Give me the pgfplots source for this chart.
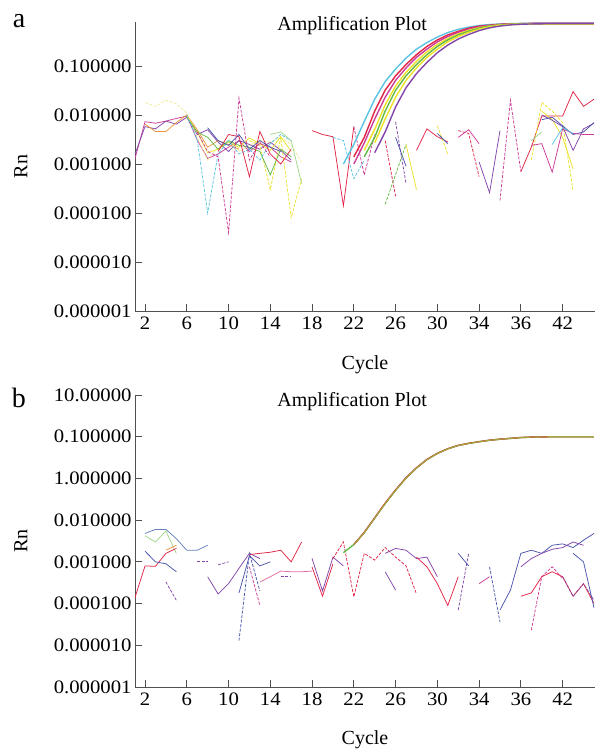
\documentclass[border=0pt]{standalone}
\usepackage{pgfplots}
\pgfplotsset{compat=1.18}
\usepackage{fontspec}
\setmainfont{Liberation Serif}
\newfontfamily\tickfont[FakeStretch=1.09]{Liberation Serif}
\newcommand\tl[1]{\mbox{\tickfont\fontsize{19}{22}\selectfont #1}}
\definecolor{cred}{RGB}{225,35,70}
\definecolor{cmag}{RGB}{205,60,150}
\definecolor{cpur}{RGB}{130,70,170}
\definecolor{cblu}{RGB}{75,85,170}
\definecolor{ccya}{RGB}{90,195,225}
\definecolor{cgrn}{RGB}{100,185,70}
\definecolor{cyel}{RGB}{235,225,40}
\definecolor{clye}{RGB}{240,235,150}
\definecolor{cora}{RGB}{235,150,60}
\definecolor{cste}{RGB}{100,130,190}
\definecolor{colv}{RGB}{160,170,60}
\definecolor{cpnk}{RGB}{225,110,160}
\definecolor{cpgr}{RGB}{160,215,140}
\definecolor{axc}{RGB}{80,80,80}
\tikzset{
  nzl/.style={line width=0.75pt},
  dzl/.style={line width=0.75pt, dash pattern=on 3pt off 1.5pt},
  ampl/.style={line width=1.4pt},
}
\begin{document}
\begin{tikzpicture}
\useasboundingbox (0,0) rectangle (595pt,749pt);
% ---------------- panel a ----------------
\begin{axis}[at={(135pt,438pt)}, anchor=south west,
  scale only axis, width=460pt, height=289pt, ymode=log,
  xmin=1.04, xmax=45.1, ymin=1e-6, ymax=0.79,
  clip mode=individual,
  axis x line*=bottom, axis y line*=left,
  axis line style={axc, line width=0.9pt, -},
  tick style={axc, line width=0.9pt},
  major tick length=7pt, tick align=inside,
  yminorticks=false, xminorticks=false,
  xtick={2,6,10,14,18,22,26,30,34,38,42},
  xticklabels={\tl{2},\tl{6},\tl{10},\tl{14},\tl{18},\tl{22},\tl{26},\tl{30},\tl{34},\tl{36},\tl{42}},
  ytick={1e-6,1e-5,1e-4,1e-3,1e-2,1e-1},
  yticklabels={\tl{0.000001},\tl{0.000010},\tl{0.000100},\tl{0.001000},\tl{0.010000},\tl{0.100000}},
  xticklabel style={yshift=-2pt},
  xlabel={Cycle}, ylabel={Rn},
  xlabel style={font=\fontsize{20}{24}\selectfont, at={(axis description cs:0.5,-0.187)}, anchor=center},
  ylabel style={font=\fontsize{20}{24}\selectfont, at={(axis description cs:-0.248,0.5)}, anchor=center, rotate=0},
]
% baseline noise, cycles 1-17
\addplot[cmag,nzl] coordinates {(1,0.0012)(2,0.0073)(3,0.0068)(4,0.0075)(5,0.0085)(6,0.0095)(7,0.0031)(8,0.0013)(9,0.0016)(10,0.0022)(11,0.0030)(12,0.0018)(13,0.0026)(14,0.0022)(15,0.0014)(16,0.0011)};
\addplot[cpur,nzl] coordinates {(1,0.0015)(2,0.0058)(3,0.0052)(4,0.0075)(5,0.0065)(6,0.0090)(7,0.0040)(8,0.0050)(9,0.0028)(10,0.0018)(11,0.0030)(12,0.0025)(13,0.0020)(14,0.0028)(15,0.0019)(16,0.0012)};
\addplot[cora,nzl] coordinates {(2,0.0065)(3,0.0046)(4,0.0046)(5,0.0070)(6,0.0100)(7,0.0050)(8,0.0022)(9,0.0030)(10,0.0025)(11,0.0020)};
\addplot[clye,dzl] coordinates {(2,0.018)(3,0.015)(4,0.020)(5,0.017)(6,0.011)(7,0.0035)(8,0.0012)(9,0.0022)(10,0.0030)(11,0.0018)(12,0.0024)(13,0.0030)(14,0.0028)(15,0.0035)(16,0.0025)(17,0.0011)};
\addplot[cyel,nzl] coordinates {(6,0.0095)(7,0.0045)(8,0.0017)(9,0.0020)(10,0.0028)(11,0.0022)(12,0.0034)(13,0.0026)(14,0.0019)(15,0.0036)(16,0.0018)};
\addplot[cyel,dzl] coordinates {(12,0.0030)(13,0.0024)(14,0.0003)(15,0.0035)(16,0.00008)(17,0.0005)};
\addplot[cgrn,nzl] coordinates {(6,0.009)(7,0.0045)(8,0.0035)(9,0.0020)(10,0.0030)(11,0.0024)(12,0.0022)(13,0.0018)(14,0.0006)(15,0.0020)(16,0.0014)};
\addplot[ccya,dzl] coordinates {(6,0.010)(7,0.0031)(8,0.0001)(9,0.0016)(10,0.0030)(11,0.0016)(12,0.0020)(13,0.0012)(14,0.0026)(15,0.0040)(16,0.0030)};
\addplot[cmag,dzl] coordinates {(7,0.0045)(8,0.0018)(9,0.0014)(10,0.00004)(11,0.022)(12,0.0012)(13,0.0028)(14,0.0014)};
\addplot[cred,nzl] coordinates {(9,0.0018)(10,0.0040)(11,0.0036)(12,0.00055)(13,0.0046)(14,0.0016)(15,0.0010)(16,0.0020)};
\addplot[cblu,nzl] coordinates {(8,0.0055)(9,0.0030)(10,0.0024)(11,0.0040)(12,0.0020)(13,0.0030)(14,0.0022)(15,0.0018)};
\addplot[cpgr,nzl] coordinates {(14,0.004)(15,0.0045)(16,0.0030)(17,0.0004)};
% baseline noise, cycles 18-45
\addplot[cred,nzl] coordinates {(18,0.0048)(19,0.0040)(20,0.0036)(21,0.00014)(22,0.0058)};
\addplot[cmag,dzl] coordinates {(22,0.0058)(23,0.0006)(24,0.004)};
\addplot[ccya,dzl] coordinates {(20,0.0035)(21,0.0030)(22,0.0005)(23,0.0012)};
\addplot[cred,dzl] coordinates {(25,0.0030)(26,0.00022)};
\addplot[cpur,dzl] coordinates {(26,0.0072)(27,0.0004)};
\addplot[cblu,nzl] coordinates {(26,0.0035)(27,0.0009)};
\addplot[cgrn,dzl] coordinates {(25,0.00015)(27,0.0025)};
\addplot[cyel,nzl] coordinates {(27,0.0025)(28,0.0003)};
\addplot[cred,nzl] coordinates {(28,0.0019)(29,0.0052)(30,0.0036)(31,0.0028)};
\addplot[cyel,dzl] coordinates {(30,0.006)(31,0.0016)};
\addplot[cblu,nzl] coordinates {(30,0.0042)(31,0.0026)};
\addplot[cred,dzl] coordinates {(32,0.0048)(33,0.0042)(34,0.00055)};
\addplot[cmag,nzl] coordinates {(32,0.0035)(33,0.0050)(34,0.0026)};
\addplot[cpur,nzl] coordinates {(34,0.0011)(35,0.00026)(36,0.0048)};
\addplot[cmag,dzl] coordinates {(36,0.00018)(37,0.020)(38,0.0007)};
\addplot[cred,nzl] coordinates {(38,0.0007)(39,0.0022)(40,0.0095)(41,0.0095)(42,0.0095)(43,0.030)(44,0.015)(45,0.021)};
\addplot[cyel,dzl] coordinates {(39,0.0012)(40,0.018)(41,0.012)(42,0.007)(43,0.00028)};
\addplot[cyel,nzl] coordinates {(40,0.012)(41,0.008)(42,0.0035)(43,0.0008)};
\addplot[cpur,nzl] coordinates {(40,0.010)(41,0.0078)(42,0.0058)(43,0.0019)(44,0.0052)(45,0.0068)};
\addplot[cblu,nzl] coordinates {(40,0.0080)(41,0.0090)(42,0.0060)(43,0.0040)(44,0.0045)(45,0.007)};
\addplot[cmag,nzl] coordinates {(39,0.0024)(40,0.0026)(41,0.00068)(42,0.0052)(43,0.0042)(44,0.0040)(45,0.0040)};
\addplot[ccya,nzl] coordinates {(41,0.0025)(42,0.0055)(43,0.0042)};
\addplot[cpgr,nzl] coordinates {(39,0.003)(40,0.0045)};
% amplification curves
\addplot[ccya,ampl] coordinates {(21,0.0010)(22,0.0025)(23,0.0074)(24,0.021)(25,0.048)(26,0.087)(27,0.145)(28,0.22)(29,0.30)(30,0.39)(31,0.48)(32,0.56)(33,0.62)(34,0.67)(35,0.70)(36,0.72)(37,0.73)(38,0.74)(39,0.745)(40,0.75)(41,0.75)(42,0.75)(43,0.75)(44,0.75)(45,0.75)};
\addplot[cred,ampl] coordinates {(22,0.0014)(23,0.0035)(24,0.012)(25,0.032)(26,0.063)(27,0.107)(28,0.17)(29,0.25)(30,0.34)(31,0.43)(32,0.51)(33,0.59)(34,0.65)(35,0.68)(36,0.71)(37,0.72)(38,0.73)(39,0.74)(40,0.74)(41,0.74)(42,0.74)(43,0.74)(44,0.74)(45,0.74)};
\addplot[cmag,ampl] coordinates {(22,0.0010)(23,0.0027)(24,0.0083)(25,0.023)(26,0.051)(27,0.091)(28,0.15)(29,0.22)(30,0.31)(31,0.40)(32,0.485)(33,0.565)(34,0.63)(35,0.67)(36,0.70)(37,0.72)(38,0.725)(39,0.73)(40,0.73)(41,0.73)(42,0.73)(43,0.73)(44,0.73)(45,0.73)};
\addplot[cyel,ampl] coordinates {(23,0.0019)(24,0.0051)(25,0.016)(26,0.039)(27,0.074)(28,0.124)(29,0.194)(30,0.275)(31,0.363)(32,0.45)(33,0.535)(34,0.605)(35,0.657)(36,0.69)(37,0.71)(38,0.72)(39,0.72)(40,0.72)(41,0.72)(42,0.72)(43,0.72)(44,0.72)(45,0.72)};
\addplot[cgrn,ampl] coordinates {(23,0.0014)(24,0.0035)(25,0.012)(26,0.032)(27,0.063)(28,0.107)(29,0.17)(30,0.25)(31,0.34)(32,0.43)(33,0.51)(34,0.59)(35,0.65)(36,0.68)(37,0.71)(38,0.72)(39,0.725)(40,0.725)(41,0.725)(42,0.725)(43,0.725)(44,0.725)(45,0.725)};
\addplot[cyel,ampl] coordinates {(24,0.0027)(25,0.0083)(26,0.023)(27,0.051)(28,0.091)(29,0.15)(30,0.22)(31,0.31)(32,0.40)(33,0.485)(34,0.565)(35,0.63)(36,0.67)(37,0.70)(38,0.71)(39,0.715)(40,0.715)(41,0.715)(42,0.715)(43,0.715)(44,0.715)(45,0.715)};
\addplot[cpur,ampl] coordinates {(24,0.0017)(25,0.0045)(26,0.0146)(27,0.036)(28,0.070)(29,0.118)(30,0.187)(31,0.267)(32,0.355)(33,0.44)(34,0.527)(35,0.60)(36,0.653)(37,0.689)(38,0.711)(39,0.72)(40,0.725)(41,0.73)(42,0.73)(43,0.73)(44,0.73)(45,0.73)};
\node[font=\fontsize{20}{24}\selectfont] at (rel axis cs:0.472,1) [yshift=-4pt] {Amplification Plot};
\end{axis}
% ---------------- panel b ----------------
\begin{axis}[at={(135pt,62pt)}, anchor=south west,
  scale only axis, width=460pt, height=292pt, ymode=log,
  xmin=1.04, xmax=45.1, ymin=1e-6, ymax=10,
  clip mode=individual,
  axis x line*=bottom, axis y line*=left,
  axis line style={axc, line width=0.9pt, -},
  tick style={axc, line width=0.9pt},
  major tick length=7pt, tick align=inside,
  yminorticks=false, xminorticks=false,
  xtick={2,6,10,14,18,22,26,30,34,38,42},
  xticklabels={\tl{2},\tl{6},\tl{10},\tl{14},\tl{18},\tl{22},\tl{26},\tl{30},\tl{34},\tl{36},\tl{42}},
  ytick={1e-6,1e-5,1e-4,1e-3,1e-2,1e-1,1,10},
  yticklabels={\tl{0.000001},\tl{0.000010},\tl{0.000100},\tl{0.001000},\tl{0.010000},\tl{1.000000},\tl{0.100000},\tl{10.00000}},
  xticklabel style={yshift=-2pt},
  xlabel={Cycle}, ylabel={Rn},
  xlabel style={font=\fontsize{20}{24}\selectfont, at={(axis description cs:0.5,-0.181)}, anchor=center},
  ylabel style={font=\fontsize{20}{24}\selectfont, at={(axis description cs:-0.248,0.5)}, anchor=center, rotate=0},
]
\addplot[cste,nzl] coordinates {(2,0.0048)(3,0.0060)(4,0.0060)(5,0.0036)(6,0.0019)(7,0.0019)(8,0.0025)};
\addplot[cpgr,nzl] coordinates {(2,0.0042)(3,0.0030)(4,0.0055)(5,0.0016)};
\addplot[cora,nzl] coordinates {(4,0.0019)(5,0.0025)};
\addplot[cred,nzl] coordinates {(1,0.00013)(2,0.00080)(3,0.00078)(4,0.0016)(5,0.0021)};
\addplot[cblu,nzl] coordinates {(2,0.0018)(3,0.0010)(4,0.0009)(5,0.00058)};
\addplot[cpur,dzl] coordinates {(4,0.00033)(5,0.00012)};
\addplot[cpur,dzl] coordinates {(7,0.0010)(8,0.0010)};
\addplot[cpur,dzl] coordinates {(9,0.00085)(10,0.0010)};
\addplot[cpur,nzl] coordinates {(8,0.00044)(9,0.00017)(10,0.0003)(11,0.0007)(12,0.0016)(13,0.0012)};
\addplot[cblu,dzl] coordinates {(11,0.000013)(12,0.0016)(13,0.0002)};
\addplot[cblu,nzl] coordinates {(11,0.00018)(12,0.0014)(13,0.0008)(14,0.0010)};
\addplot[cred,nzl] coordinates {(12,0.0015)(13,0.0016)(14,0.0017)(15,0.0019)(16,0.0010)(17,0.0030)};
\addplot[cpnk,nzl] coordinates {(13,0.00033)(14,0.00044)(15,0.00060)(16,0.00058)(17,0.00058)(18,0.0006)};
\addplot[cmag,dzl] coordinates {(12,0.00076)(13,0.00009)};
\addplot[cpur,dzl] coordinates {(15,0.00044)(16,0.00044)};
\addplot[cpur,nzl] coordinates {(18,0.0012)(19,0.00020)(20,0.0013)(21,0.0008)};
\addplot[cred,nzl] coordinates {(18,0.00075)(19,0.00015)(20,0.0009)};
\addplot[cred,dzl] coordinates {(20,0.0012)(21,0.0030)(22,0.000145)(23,0.0016)(24,0.0011)(25,0.0022)(26,0.0013)(27,0.0008)(28,0.00017)};
\addplot[cpur,nzl] coordinates {(25,0.0016)(26,0.0021)(27,0.0019)(28,0.0012)(29,0.0013)(30,0.00044)};
\addplot[cpur,nzl] coordinates {(25,0.00058)(26,0.00021)};
\addplot[cred,nzl] coordinates {(28,0.0013)(29,0.00076)(30,0.0003)(31,0.00009)(32,0.00044)};
\addplot[cpur,dzl] coordinates {(32,0.00007)(33,0.0016)};
\addplot[cblu,nzl] coordinates {(32,0.0016)(33,0.0008)};
\addplot[cmag,nzl] coordinates {(34,0.0003)(35,0.00044)};
\addplot[cblu,dzl] coordinates {(35,0.00076)(36,0.000036)};
\addplot[cblu,nzl] coordinates {(36,0.00007)(37,0.00021)(38,0.0016)(39,0.0019)(40,0.0016)(41,0.0025)(42,0.0027)(43,0.0022)(44,0.0033)(45,0.0048)};
\addplot[cpur,nzl] coordinates {(38,0.00076)(39,0.0012)(40,0.0016)(41,0.0020)(42,0.0022)(43,0.0030)(44,0.0025)};
\addplot[cmag,dzl] coordinates {(39,0.000023)(40,0.00044)(41,0.00076)(42,0.0004)};
\addplot[cred,nzl] coordinates {(38,0.00015)(39,0.00018)(40,0.00044)(41,0.00058)(42,0.00044)(43,0.00015)(44,0.0003)(45,0.0001)};
\addplot[cpur,dzl] coordinates {(42,0.00044)(43,0.00015)(44,0.0003)(45,0.00012)};
\addplot[cblu,nzl] coordinates {(43,0.0016)(44,0.0010)(45,0.00008)};
% amplification curves (overlapping)
\addplot[cgrn,ampl] coordinates {(21,0.00166)(22,0.0026)(23,0.0050)(24,0.0112)(25,0.025)(26,0.052)(27,0.102)(28,0.178)(29,0.282)(30,0.398)(31,0.513)(32,0.617)(33,0.692)(34,0.759)(35,0.822)(36,0.871)(37,0.912)(38,0.955)(39,0.977)(40,0.989)(41,1.0)(42,1.0)(43,1.0)(44,1.0)(45,1.0)};
\addplot[cred,ampl] coordinates {(22,0.0026)(23,0.0051)(24,0.0114)(25,0.0255)(26,0.053)(27,0.104)(28,0.180)(29,0.285)(30,0.40)(31,0.515)(32,0.62)(33,0.695)(34,0.76)(35,0.825)(36,0.873)(37,0.914)(38,0.956)(39,0.978)(40,0.99)(41,1.0)(42,1.0)(43,1.0)(44,1.0)(45,1.0)};
\addplot[colv,line width=1.1pt] coordinates {(22,0.0026)(23,0.0050)(24,0.0112)(25,0.025)(26,0.052)(27,0.102)(28,0.178)(29,0.282)(30,0.398)(31,0.513)(32,0.617)(33,0.692)(34,0.759)(35,0.822)(36,0.871)(37,0.912)(38,0.955)(39,0.977)(40,0.989)(41,1.0)(42,1.0)(43,1.0)(44,1.0)(45,1.0)};
\node[font=\fontsize{20}{24}\selectfont] at (rel axis cs:0.472,1) [yshift=-7pt] {Amplification Plot};
\end{axis}
\node[font=\fontsize{28}{32}\selectfont] at (19pt,728pt) {a};
\node[font=\fontsize{28}{32}\selectfont] at (19pt,351pt) {b};
\end{tikzpicture}
\end{document}
